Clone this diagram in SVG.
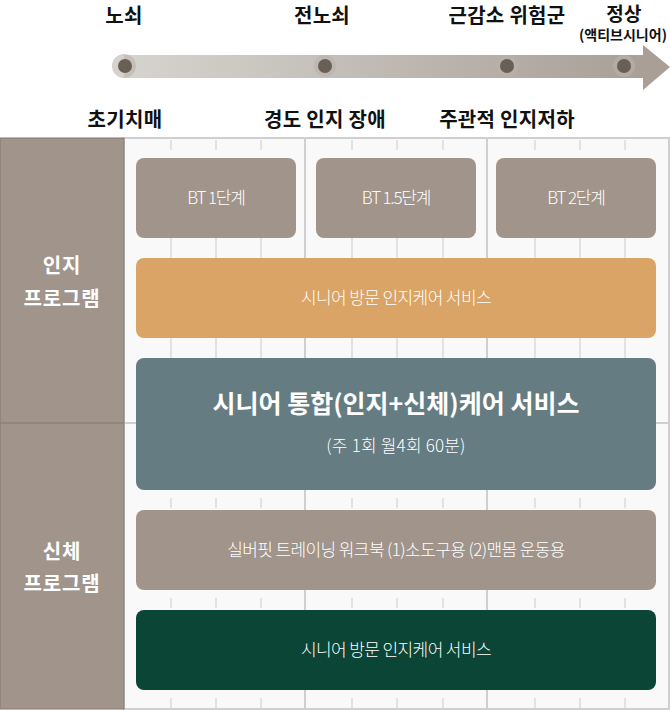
<svg xmlns="http://www.w3.org/2000/svg" width="670" height="710" viewBox="0 0 670 710">
<defs>
<linearGradient id="barg" x1="0" y1="0" x2="1" y2="0">
<stop offset="0" stop-color="#d6d4cf"/>
<stop offset="1" stop-color="#a99f97"/>
</linearGradient>
<style>
text{font-family:"Noto Sans CJK KR","Noto Sans",sans-serif;text-anchor:middle}
.h{font-size:20px;font-weight:700;fill:#111;letter-spacing:0.3px}
.hs{font-size:14px;font-weight:700;fill:#111}
.side{font-size:20px;font-weight:700;fill:#fff;letter-spacing:0.8px}
.lbl{font-size:17px;font-weight:300;fill:#fff;letter-spacing:-0.6px}
.bt{letter-spacing:-1.2px}
.tick{stroke:#e2e2e2;stroke-width:2}
.dot{fill:#6a5f55}
.halo{fill:#b9b2ab;opacity:0.6}
</style>
</defs>
<g id="timeline">
<rect x="124" y="55" width="520" height="23" fill="url(#barg)"/>
<polygon points="643,45 670,67 643,90" fill="#a99f97"/>
<circle class="halo" cx="124" cy="66" r="12" fill="#ddd"/>
<circle class="halo" cx="325" cy="66" r="11"/>
<circle class="halo" cx="507" cy="66" r="11"/>
<circle class="halo" cx="624" cy="66" r="11"/>
<circle class="dot" cx="125" cy="66" r="7"/>
<circle class="dot" cx="325" cy="66" r="7"/>
<circle class="dot" cx="507" cy="66" r="7"/>
<circle class="dot" cx="624" cy="66" r="7"/>
<text class="h" x="124" y="23">노쇠</text>
<text class="h" x="322" y="23">전노쇠</text>
<text class="h" x="507" y="23">근감소 위험군</text>
<text class="h" x="624" y="21" style="font-size:19px">정상</text>
<text class="hs" x="623" y="40">(액티브시니어)</text>
<text class="h" x="125" y="127">초기치매</text>
<text class="h" x="325" y="127">경도 인지 장애</text>
<text class="h" x="507" y="127">주관적 인지저하</text>
</g>
<g id="grid">
<rect x="124" y="138" width="545" height="571" fill="#f9f9f9" stroke="#cfcfcf" stroke-width="2"/>
<line x1="305" y1="138" x2="305" y2="709" stroke="#cfcfcf" stroke-width="2"/>
<line x1="487" y1="138" x2="487" y2="709" stroke="#cfcfcf" stroke-width="2"/>
<line x1="124" y1="423" x2="669" y2="423" stroke="#cfcfcf" stroke-width="2"/>
<g class="tick">
<path d="M171 140V150M216 140V150M261 140V150M352 140V150M397 140V150M443 140V150M535 140V150M580 140V150M625 140V150"/>
<path d="M171 238V258M216 238V258M261 238V258M352 238V258M397 238V258M443 238V258M535 238V258M580 238V258M625 238V258"/>
<path d="M171 338V358M216 338V358M261 338V358M352 338V358M397 338V358M443 338V358M535 338V358M580 338V358M625 338V358"/>
<path d="M171 498V508M216 498V508M261 498V508M352 498V508M397 498V508M443 498V508M535 498V508M580 498V508M625 498V508"/>
<path d="M171 598V608M216 598V608M261 598V608M352 598V608M397 598V608M443 598V608M535 598V608M580 598V608M625 598V608"/>
<path d="M171 698V708M216 698V708M261 698V708M352 698V708M397 698V708M443 698V708M535 698V708M580 698V708M625 698V708"/>
</g>
</g>
<g id="side">
<rect x="0" y="138" width="124" height="571" fill="#a0948b" stroke="#84786f" stroke-width="1"/>
<line x1="0" y1="423" x2="124" y2="423" stroke="#84786f" stroke-width="1"/>
<text class="side" x="62" y="273">인지</text>
<text class="side" x="62" y="306">프로그램</text>
<text class="side" x="62" y="559">신체</text>
<text class="side" x="62" y="591">프로그램</text>
</g>
<g id="bt1">
<rect x="136" y="158" width="160" height="80" rx="8" fill="#a0948b"/>
<text class="lbl bt" x="216" y="204">BT 1단계</text>
</g>
<g id="bt15">
<rect x="316" y="158" width="160" height="80" rx="8" fill="#a0948b"/>
<text class="lbl bt" x="396" y="204">BT 1.5단계</text>
</g>
<g id="bt2">
<rect x="496" y="158" width="160" height="80" rx="8" fill="#a0948b"/>
<text class="lbl bt" x="576" y="204">BT 2단계</text>
</g>
<g id="visit1">
<rect x="136" y="258" width="520" height="80" rx="8" fill="#d9a465"/>
<text class="lbl" x="396" y="304">시니어 방문 인지케어 서비스</text>
</g>
<g id="integrated">
<rect x="136" y="358" width="520" height="132" rx="8" fill="#657c82"/>
<text x="396" y="413" style="font-size:25px;font-weight:700;fill:#fff">시니어 통합(인지+신체)케어 서비스</text>
<text x="396" y="452" style="font-size:17px;font-weight:300;fill:#fff;letter-spacing:0.2px">(주 1회 월4회 60분)</text>
</g>
<g id="silverfit">
<rect x="136" y="510" width="520" height="80" rx="8" fill="#a0948b"/>
<text class="lbl" x="396" y="556">실버핏 트레이닝 워크북 (1)소도구용 (2)맨몸 운동용</text>
</g>
<g id="visit2">
<rect x="136" y="610" width="520" height="80" rx="8" fill="#0b4536"/>
<text class="lbl" x="396" y="656">시니어 방문 인지케어 서비스</text>
</g>
</svg>
